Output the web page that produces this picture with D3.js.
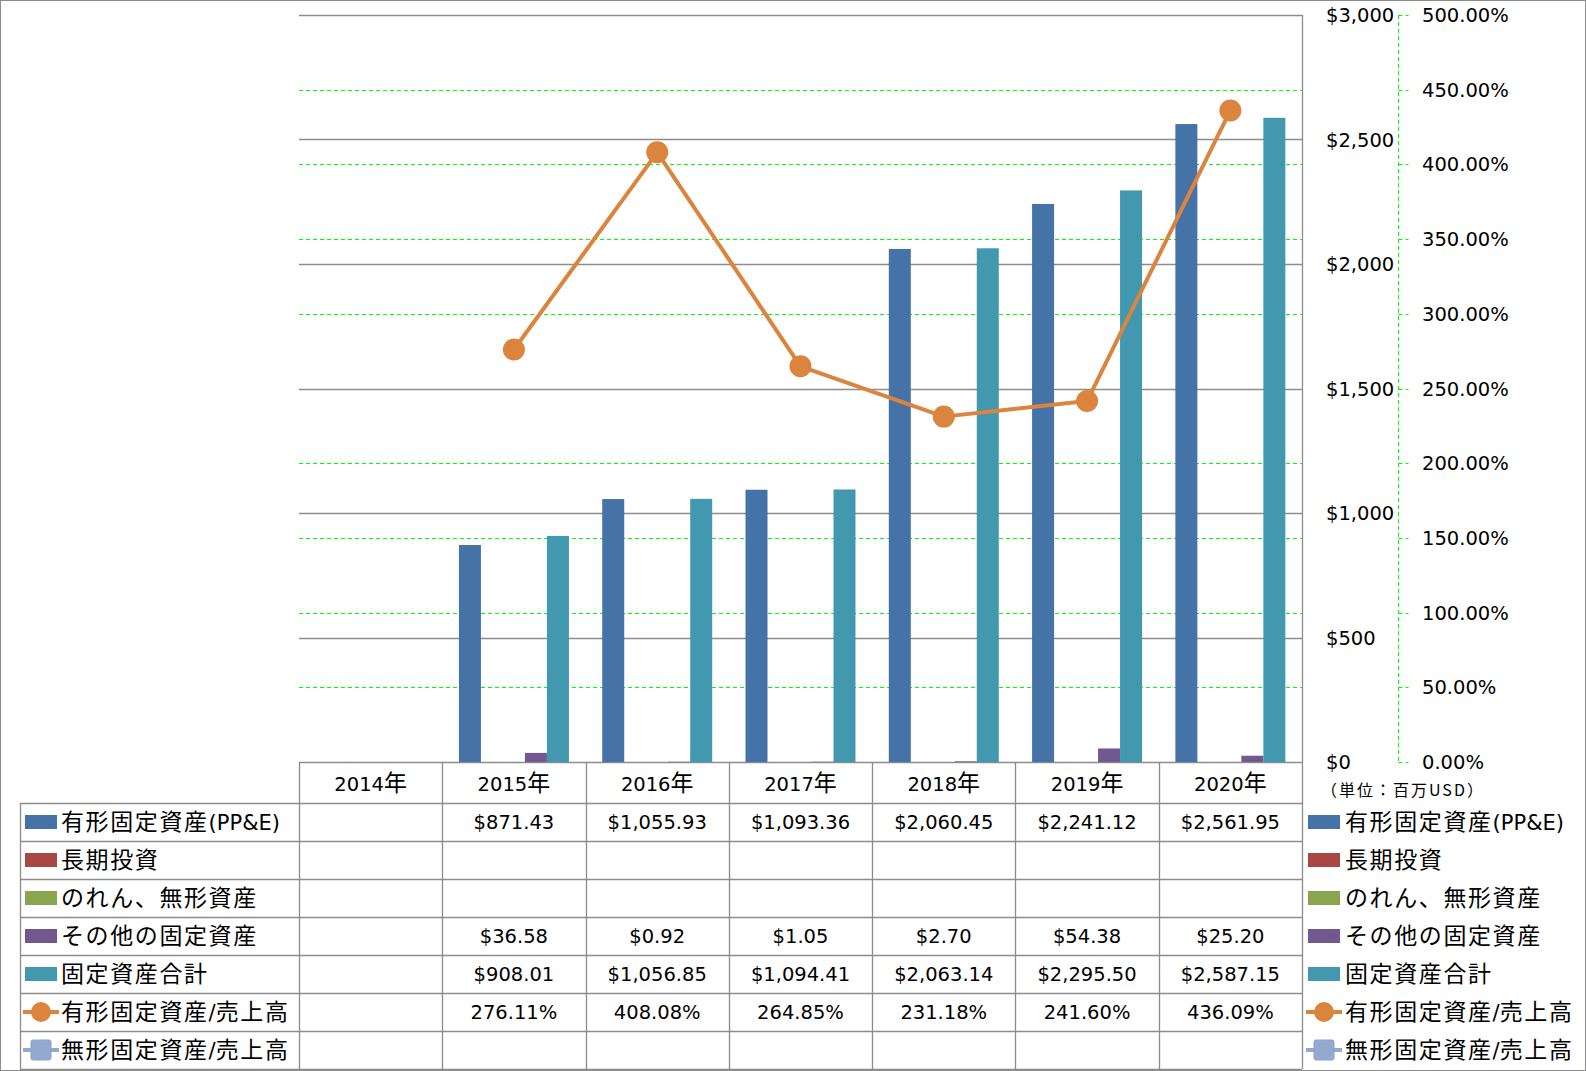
<!DOCTYPE html>
<html><head><meta charset="utf-8">
<script src="https://cdn.jsdelivr.net/npm/d3@7"></script>
<style>body{margin:0;background:#fff;overflow:hidden}</style>
</head><body><svg id="c" width="1586" height="1071"></svg>
<script>
// ---- data ----
const years = ["2014年","2015年","2016年","2017年","2018年","2019年","2020年"];
const seriesNames = ["有形固定資産(PP&E)","長期投資","のれん、無形資産","その他の固定資産","固定資産合計","有形固定資産/売上高","無形固定資産/売上高"];
const ppe = [null, 871.43, 1055.93, 1093.36, 2060.45, 2241.12, 2561.95];
const ltInvest = [null, null, null, null, null, null, null];
const goodwill = [null, null, null, null, null, null, null];
const otherAssets = [null, 36.58, 0.92, 1.05, 2.70, 54.38, 25.20];
const totalAssets = [null, 908.01, 1056.85, 1094.41, 2063.14, 2295.50, 2587.15];
const ppeRatio = [null, 276.11, 408.08, 264.85, 231.18, 241.60, 436.09];
const intangibleRatio = [null, null, null, null, null, null, null];
const leftTicks = [0, 500, 1000, 1500, 2000, 2500, 3000];
const rightTicks = [0, 50, 100, 150, 200, 250, 300, 350, 400, 450, 500];
const unitLabel = "（単位：百万USD）";

const barSeries = [ppe, ltInvest, goodwill, otherAssets, totalAssets];
const colors = ["#4572A7","#AA4643","#89A54E","#71588F","#4198AF","#DB843D","#93A9CF"];

// ---- layout ----
const svg = d3.select("#c");
const L = 299, R = 1302, T = 15, B = 762;
const tableLeft = 20, headerBottom = 803, rowH = 38;
const gray = "#8c8c8c";

const x0 = d3.scaleBand().domain(years).range([L, R]).padding(0);
const gap = x0.bandwidth() * 0.1162;
const x1 = d3.scaleBand().domain(d3.range(5)).range([gap, x0.bandwidth() - gap]).padding(0);
const yL = d3.scaleLinear().domain([0, 3000]).range([B, T]);
const yR = d3.scaleLinear().domain([0, 500]).range([B, T]);

function mixText(sel, str, cjkSize, asciiSize, ls) {
  const runs = str.match(/[\x00-\x7F]+|[^\x00-\x7F]+/g) || [];
  runs.forEach(r => {
    const ascii = /^[\x00-\x7F]/.test(r);
    sel.append("tspan")
      .attr("font-family", ascii ? "'DejaVu Sans'" : "'Noto Sans CJK JP'")
      .attr("font-size", ascii ? asciiSize : cjkSize)
      .attr("letter-spacing", ascii ? 0 : ls)
      .text(r);
  });
}

// outer border
svg.append("rect").attr("x", 0.5).attr("y", 0.5).attr("width", 1585).attr("height", 1070)
  .attr("fill", "#fff").attr("stroke", gray);

// green dashed gridlines (secondary axis)
svg.append("g").selectAll("line").data(rightTicks).join("line")
  .attr("x1", L).attr("x2", R)
  .attr("y1", d => Math.round(yR(d)) + 0.5).attr("y2", d => Math.round(yR(d)) + 0.5)
  .attr("stroke", "#00ff00").attr("stroke-dasharray", "4,3");

// gray gridlines (primary axis)
svg.append("g").selectAll("line").data(leftTicks).join("line")
  .attr("x1", L).attr("x2", R)
  .attr("y1", d => Math.round(yL(d)) + 0.5).attr("y2", d => Math.round(yL(d)) + 0.5)
  .attr("stroke", gray).attr("stroke-width", 1.3);

// bars
barSeries.forEach((s, i) => {
  svg.append("g").selectAll("rect").data(years.map((y, j) => ({y, v: s[j]})).filter(d => d.v != null))
    .join("rect")
    .attr("x", d => x0(d.y) + x1(i))
    .attr("width", x1.bandwidth())
    .attr("y", d => yL(d.v))
    .attr("height", d => B - yL(d.v))
    .attr("fill", colors[i]);
});

// line series
const lineData = years.map((y, j) => ({y, v: ppeRatio[j]})).filter(d => d.v != null);
const cx = d => x0(d.y) + x0.bandwidth() / 2;
svg.append("path").datum(lineData)
  .attr("d", d3.line().x(cx).y(d => yR(d.v)))
  .attr("fill", "none").attr("stroke", colors[5]).attr("stroke-width", 4).attr("stroke-linejoin", "round");
svg.append("g").selectAll("circle").data(lineData).join("circle")
  .attr("cx", cx).attr("cy", d => yR(d.v)).attr("r", 11)
  .attr("fill", colors[5]);

// right vertical axis line (primary)
svg.append("line").attr("x1", R + 0.5).attr("x2", R + 0.5).attr("y1", T).attr("y2", headerBottom + rowH * 7)
  .attr("stroke", gray).attr("stroke-width", 1.3);

// primary axis labels
svg.append("g").selectAll("text").data(leftTicks).join("text")
  .attr("x", 1326).attr("y", d => yL(d) + 7)
  .attr("font-family", "'DejaVu Sans'").attr("font-size", 19.5).attr("fill", "#000")
  .text(d => d3.format("$,")(d));

// secondary axis: green dashed line with ticks
const axX = 1398.5;
svg.append("line").attr("x1", axX).attr("x2", axX).attr("y1", T).attr("y2", B)
  .attr("stroke", "#00ff00").attr("stroke-dasharray", "4,3");
svg.append("g").selectAll("line").data(rightTicks).join("line")
  .attr("x1", axX).attr("x2", axX + 10)
  .attr("y1", d => Math.round(yR(d)) + 0.5).attr("y2", d => Math.round(yR(d)) + 0.5)
  .attr("stroke", "#00ff00").attr("stroke-dasharray", "4,3");
svg.append("g").selectAll("text").data(rightTicks).join("text")
  .attr("x", 1422).attr("y", d => yR(d) + 7)
  .attr("font-family", "'DejaVu Sans'").attr("font-size", 19.5).attr("fill", "#000")
  .text(d => d3.format(".2f")(d) + "%");

// unit label
svg.append("text").attr("x", 1321).attr("y", 796)
  .attr("font-family", "'Noto Sans CJK JP'").attr("font-size", 16).attr("letter-spacing", 2)
  .attr("fill", "#000")
  .text(unitLabel);

// ---- data table ----
const tableBottom = headerBottom + rowH * 7;
const tg = svg.append("g");
const bounds = years.map(y => x0(y));
tg.selectAll("line.v").data(bounds).join("line").attr("class", "v")
  .attr("x1", d => Math.round(d) + 0.5).attr("x2", d => Math.round(d) + 0.5)
  .attr("y1", B).attr("y2", tableBottom).attr("stroke", gray).attr("stroke-width", 1.3);
tg.append("line").attr("x1", tableLeft + 0.5).attr("x2", tableLeft + 0.5)
  .attr("y1", headerBottom).attr("y2", tableBottom).attr("stroke", gray).attr("stroke-width", 1.3);
tg.selectAll("line.h").data(d3.range(8)).join("line").attr("class", "h")
  .attr("x1", tableLeft).attr("x2", R)
  .attr("y1", d => headerBottom + d * rowH + 0.5).attr("y2", d => headerBottom + d * rowH + 0.5)
  .attr("stroke", gray).attr("stroke-width", 1.3);

// header labels
years.forEach(y => {
  const t = tg.append("text").attr("x", x0(y) + x0.bandwidth() / 2).attr("y", (B + headerBottom) / 2 + 8)
    .attr("text-anchor", "middle").attr("fill", "#000");
  mixText(t, y, 23, 19.5, 0);
});

// values
const fmtD = d3.format("$,.2f");
const rowsVals = [ppe, ltInvest, goodwill, otherAssets, totalAssets, ppeRatio, intangibleRatio];
rowsVals.forEach((s, i) => {
  const cy = headerBottom + i * rowH + rowH / 2;
  s.forEach((v, j) => {
    if (v == null) return;
    tg.append("text").attr("x", x0(years[j]) + x0.bandwidth() / 2).attr("y", cy + 7)
      .attr("text-anchor", "middle").attr("font-family", "'DejaVu Sans'").attr("font-size", 19.5)
      .attr("fill", "#000")
      .text(i >= 5 ? d3.format(".2f")(v) + "%" : fmtD(v));
  });
});

// legend keys (left in table and right side)
function legendKey(g, i, xs, xe, cy) {
  if (i < 5) {
    g.append("rect").attr("x", xs + 2).attr("y", cy - 7).attr("width", xe - xs - 4).attr("height", 14).attr("fill", colors[i]);
  } else {
    g.append("line").attr("x1", xs).attr("x2", xe).attr("y1", cy).attr("y2", cy)
      .attr("stroke", colors[i]).attr("stroke-width", 4);
    const mx = (xs + xe) / 2;
    if (i === 5) {
      g.append("circle").attr("cx", mx).attr("cy", cy).attr("r", 10).attr("fill", colors[i]);
    } else {
      g.append("rect").attr("x", mx - 10).attr("y", cy - 10).attr("width", 20).attr("height", 20)
        .attr("rx", 2).attr("fill", colors[i]).attr("stroke", "#8aa2ca");
    }
  }
}
seriesNames.forEach((name, i) => {
  const cy = headerBottom + i * rowH + rowH / 2;
  legendKey(tg, i, 23, 59, cy);
  const t1 = tg.append("text").attr("x", 61).attr("y", cy + 7.5).attr("fill", "#000");
  mixText(t1, name, 23, 21, 1.6);
  legendKey(tg, i, 1306, 1342, cy);
  const t2 = tg.append("text").attr("x", 1345).attr("y", cy + 7.5).attr("fill", "#000");
  mixText(t2, name, 23, 21, 1.6);
});
</script>
</body></html>
